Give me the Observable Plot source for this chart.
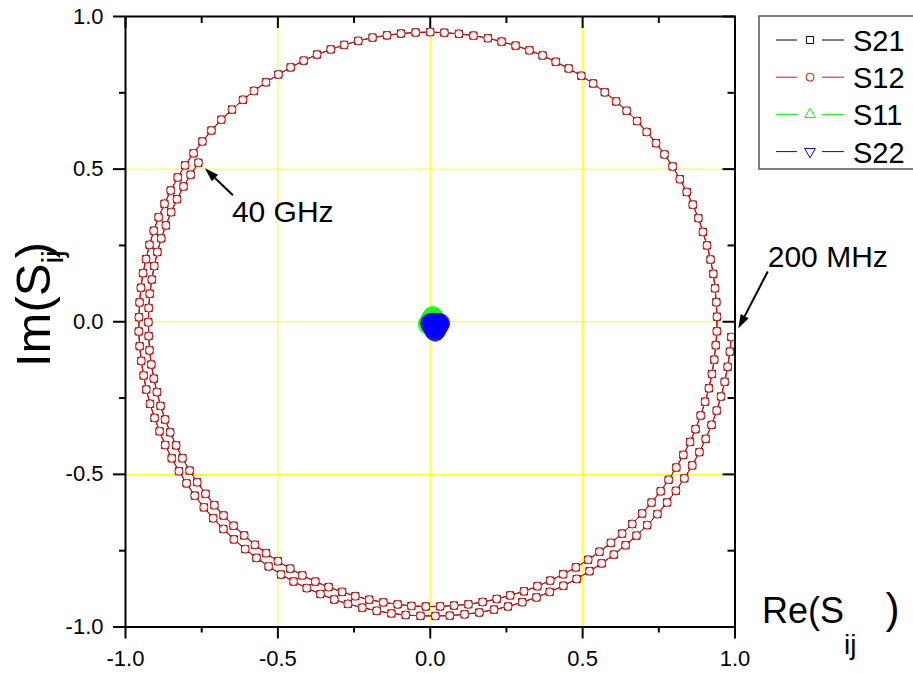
<!DOCTYPE html>
<html><head><meta charset="utf-8">
<script src="https://cdn.jsdelivr.net/npm/d3@7"></script>
<script src="https://cdn.jsdelivr.net/npm/@observablehq/plot@0.6"></script>
<style>html,body{margin:0;padding:0;background:#fff;} svg{display:block;}</style>
</head><body><div id="chart"></div>
<script>
// ---- Data: 200 sweep points, 200 MHz ... 40 GHz ----
const s21Mag = [.989,.988,.987,.986,.985,.984,.983,.982,.981,.980,
.979,.978,.977,.976,.975,.974,.973,.972,.971,.970,
.970,.969,.968,.968,.967,.967,.966,.966,.965,.965,
.964,.964,.964,.964,.963,.963,.963,.963,.962,.962,
.962,.962,.961,.961,.961,.961,.960,.960,.960,.960,
.959,.959,.959,.959,.958,.958,.958,.958,.957,.957,
.957,.957,.956,.956,.956,.956,.955,.955,.955,.955,
.954,.954,.954,.954,.953,.953,.953,.953,.952,.952,
.952,.952,.951,.951,.951,.951,.950,.950,.950,.950,
.949,.949,.949,.949,.948,.948,.948,.948,.947,.947,
.947,.947,.946,.946,.946,.946,.945,.945,.945,.945,
.944,.944,.944,.944,.943,.943,.943,.943,.942,.942,
.942,.942,.941,.941,.941,.941,.940,.940,.940,.940,
.939,.939,.939,.939,.938,.938,.938,.938,.937,.937,
.937,.937,.936,.936,.936,.936,.935,.935,.935,.935,
.934,.934,.934,.934,.933,.933,.933,.933,.932,.932,
.932,.932,.931,.931,.931,.931,.930,.930,.930,.930,
.929,.929,.929,.929,.928,.928,.928,.928,.927,.927,
.927,.927,.926,.926,.926,.926,.925,.925,.925,.925,
.924,.924,.924,.924,.923,.923,.923,.923,.922,.922];
const s21PhaseDeg = [-2.9,-5.7,-8.6,-11.5,-14.4,-17.2,-20.1,-23.0,-25.8,-28.7,
-31.6,-34.5,-37.3,-40.2,-43.1,-46.0,-48.8,-51.7,-54.6,-57.4,
-60.3,-63.2,-66.1,-68.9,-71.8,-74.7,-77.5,-80.4,-83.3,-86.2,
-89.0,-91.9,-94.8,-97.6,-100.5,-103.4,-106.3,-109.1,-112.0,-114.9,
-117.8,-120.6,-123.5,-126.4,-129.2,-132.1,-135.0,-137.9,-140.7,-143.6,
-146.5,-149.3,-152.2,-155.1,-158.0,-160.8,-163.7,-166.6,-169.4,-172.3,
-175.2,-178.1,-180.9,-183.8,-186.7,-189.6,-192.4,-195.3,-198.2,-201.0,
-203.9,-206.8,-209.7,-212.5,-215.4,-218.3,-221.1,-224.0,-226.9,-229.8,
-232.6,-235.5,-238.4,-241.2,-244.1,-247.0,-249.9,-252.7,-255.6,-258.5,
-261.4,-264.2,-267.1,-270.0,-272.8,-275.7,-278.6,-281.5,-284.3,-287.2,
-290.1,-292.9,-295.8,-298.7,-301.6,-304.4,-307.3,-310.2,-313.0,-315.9,
-318.8,-321.7,-324.5,-327.4,-330.3,-333.2,-336.0,-338.9,-341.8,-344.6,
-347.5,-350.4,-353.3,-356.1,-359.0,-361.9,-364.7,-367.6,-370.5,-373.4,
-376.2,-379.1,-382.0,-384.8,-387.7,-390.6,-393.5,-396.3,-399.2,-402.1,
-405.0,-407.8,-410.7,-413.6,-416.4,-419.3,-422.2,-425.1,-427.9,-430.8,
-433.7,-436.5,-439.4,-442.3,-445.2,-448.0,-450.9,-453.8,-456.6,-459.5,
-462.4,-465.3,-468.1,-471.0,-473.9,-476.8,-479.6,-482.5,-485.4,-488.2,
-491.1,-494.0,-496.9,-499.7,-502.6,-505.5,-508.3,-511.2,-514.1,-517.0,
-519.8,-522.7,-525.6,-528.4,-531.3,-534.2,-537.1,-539.9,-542.8,-545.7,
-548.6,-551.4,-554.3,-557.2,-560.0,-562.9,-565.8,-568.7,-571.5,-574.4];
const s12Mag = [.989,.988,.987,.986,.985,.984,.983,.982,.981,.980,
.979,.978,.977,.976,.975,.974,.973,.972,.971,.970,
.970,.969,.968,.968,.967,.967,.966,.966,.965,.965,
.964,.964,.964,.964,.963,.963,.963,.963,.962,.962,
.962,.962,.961,.961,.961,.961,.960,.960,.960,.960,
.959,.959,.959,.959,.958,.958,.958,.958,.957,.957,
.957,.957,.956,.956,.956,.956,.955,.955,.955,.955,
.954,.954,.954,.954,.953,.953,.953,.953,.952,.952,
.952,.952,.951,.951,.951,.951,.950,.950,.950,.950,
.949,.949,.949,.949,.948,.948,.948,.948,.947,.947,
.947,.947,.946,.946,.946,.946,.945,.945,.945,.945,
.944,.944,.944,.944,.943,.943,.943,.943,.942,.942,
.942,.942,.941,.941,.941,.941,.940,.940,.940,.940,
.939,.939,.939,.939,.938,.938,.938,.938,.937,.937,
.937,.937,.936,.936,.936,.936,.935,.935,.935,.935,
.934,.934,.934,.934,.933,.933,.933,.933,.932,.932,
.932,.932,.931,.931,.931,.931,.930,.930,.930,.930,
.929,.929,.929,.929,.928,.928,.928,.928,.927,.927,
.927,.927,.926,.926,.926,.926,.925,.925,.925,.925,
.924,.924,.924,.924,.923,.923,.923,.923,.922,.922];
const s12PhaseDeg = [-2.9,-5.7,-8.6,-11.5,-14.4,-17.2,-20.1,-23.0,-25.8,-28.7,
-31.6,-34.5,-37.3,-40.2,-43.1,-46.0,-48.8,-51.7,-54.6,-57.4,
-60.3,-63.2,-66.1,-68.9,-71.8,-74.7,-77.5,-80.4,-83.3,-86.2,
-89.0,-91.9,-94.8,-97.6,-100.5,-103.4,-106.3,-109.1,-112.0,-114.9,
-117.8,-120.6,-123.5,-126.4,-129.2,-132.1,-135.0,-137.9,-140.7,-143.6,
-146.5,-149.3,-152.2,-155.1,-158.0,-160.8,-163.7,-166.6,-169.4,-172.3,
-175.2,-178.1,-180.9,-183.8,-186.7,-189.6,-192.4,-195.3,-198.2,-201.0,
-203.9,-206.8,-209.7,-212.5,-215.4,-218.3,-221.1,-224.0,-226.9,-229.8,
-232.6,-235.5,-238.4,-241.2,-244.1,-247.0,-249.9,-252.7,-255.6,-258.5,
-261.4,-264.2,-267.1,-270.0,-272.8,-275.7,-278.6,-281.5,-284.3,-287.2,
-290.1,-292.9,-295.8,-298.7,-301.6,-304.4,-307.3,-310.2,-313.0,-315.9,
-318.8,-321.7,-324.5,-327.4,-330.3,-333.2,-336.0,-338.9,-341.8,-344.6,
-347.5,-350.4,-353.3,-356.1,-359.0,-361.9,-364.7,-367.6,-370.5,-373.4,
-376.2,-379.1,-382.0,-384.8,-387.7,-390.6,-393.5,-396.3,-399.2,-402.1,
-405.0,-407.8,-410.7,-413.6,-416.4,-419.3,-422.2,-425.1,-427.9,-430.8,
-433.7,-436.5,-439.4,-442.3,-445.2,-448.0,-450.9,-453.8,-456.6,-459.5,
-462.4,-465.3,-468.1,-471.0,-473.9,-476.8,-479.6,-482.5,-485.4,-488.2,
-491.1,-494.0,-496.9,-499.7,-502.6,-505.5,-508.3,-511.2,-514.1,-517.0,
-519.8,-522.7,-525.6,-528.4,-531.3,-534.2,-537.1,-539.9,-542.8,-545.7,
-548.6,-551.4,-554.3,-557.2,-560.0,-562.9,-565.8,-568.7,-571.5,-574.4];
const s11Re = [.028,-.002,.007,.026,-.007,.016,.019,-.008,.024,.010,-.004,.028,.001,.004,.027,-.006,.013,.022,
-.008,.022,.013,-.006,.027,.004,.001,.028,-.004,.010,.024,-.008,.019,.016,-.007,.026,.007,-.002,
.038,-.011,.003,.034,-.020,.018,.023,-.022,.031,.008,-.015,.038,-.007,-.002,.036,-.018,.013,.027,
-.022,.027,.013,-.018,.036,-.002,-.007,.038,-.015,.008,.031,-.022,.023,.018,-.020,.034,.003,-.011];
const s11Im = [-.002,.012,-.020,.007,.004,-.019,.014,-.005,-.014,.016,-.014,-.005,.014,-.019,.004,.007,-.020,.012,
-.002,-.016,.016,-.011,-.008,.015,-.018,.001,.010,-.020,.010,.001,-.018,.015,-.008,-.011,.016,-.016,
.000,.023,-.030,.015,.010,-.028,.026,-.005,-.019,.030,-.019,-.005,.026,-.028,.010,.015,-.030,.023,
.000,-.023,.030,-.015,-.010,.028,-.026,.005,.019,-.030,.019,.005,-.026,.028,-.010,-.015,.030,-.023];
const s22Re = [.024,.011,.015,.023,.008,.019,.020,.008,.022,.016,.010,.024,.012,.013,.024,.009,.017,.021,
.008,.021,.017,.009,.024,.013,.012,.024,.010,.016,.022,.008,.020,.019,.008,.023,.015,.011,
.031,.006,.013,.029,.002,.021,.024,.001,.028,.016,.005,.031,.009,.011,.030,.003,.019,.026,
.001,.026,.019,.003,.030,.011,.009,.031,.005,.016,.028,.001,.024,.021,.002,.029,.013,.006,
.040,.001,.012,.037,-.007,.024,.028,-.008,.034,.016,-.002,.040,.004,.008,.039,-.005,.020,.031,
-.008,.031,.020,-.005,.039,.008,.004,.040,-.002,.016,.034,-.008,.028,.024,-.007,.037,.012,.001,
.046,-.003,.011,.042,-.012,.026,.031,-.014,.039,.016,-.007,.046,.001,.006,.044,-.010,.021,.035,
-.014,.035,.021,-.010,.044,.006,.001,.046,-.007,.016,.039,-.014,.031,.026,-.012,.042,.011,-.003];
const s22Im = [-.012,-.006,-.020,-.008,-.009,-.020,-.005,-.013,-.017,-.004,-.017,-.013,-.005,-.020,-.009,-.008,-.020,-.006,
-.012,-.018,-.004,-.016,-.015,-.004,-.019,-.011,-.007,-.020,-.007,-.011,-.019,-.004,-.015,-.016,-.004,-.018,
-.012,-.001,-.027,-.005,-.007,-.026,.001,-.015,-.022,.003,-.022,-.015,.001,-.026,-.007,-.005,-.027,-.001,
-.012,-.024,.003,-.020,-.017,.002,-.025,-.009,-.002,-.027,-.002,-.009,-.025,.002,-.017,-.020,.003,-.024,
-.012,.006,-.036,.000,-.004,-.035,.009,-.016,-.027,.012,-.027,-.016,.009,-.035,-.004,.000,-.036,.006,
-.012,-.030,.012,-.024,-.020,.011,-.033,-.008,.003,-.036,.003,-.008,-.033,.011,-.020,-.024,.012,-.030,
-.014,.009,-.044,.001,-.004,-.042,.012,-.019,-.033,.016,-.033,-.019,.012,-.042,-.004,.001,-.044,.009,
-.014,-.037,.016,-.029,-.024,.014,-.040,-.009,.005,-.044,.005,-.009,-.040,.014,-.024,-.029,.016,-.037];

const seriesNames = ["S21", "S12", "S11", "S22"];
const seriesColors = ["#000000", "#ff0000", "#00ff00", "#0000ff"];
const seriesSymbols = ["square", "circle", "triangle", "triangle"];
const seriesRotate = [0, 0, 0, 180];
const seriesFill = ["white", "white", "none", "none"];
const majorTicks = [-1, -0.5, 0, 0.5, 1];
const minorTicks = [-0.75, -0.25, 0.25, 0.75];
const gridTicks = [-0.5, 0, 0.5];
const annotations = [
  {text: "200 MHz", series: 0, index: 0},
  {text: "40 GHz", series: 0, index: 199}
];

// ---- Build tables ----
const polar = (mag, ph) => mag.map((m, i) => ({re: m * Math.cos(ph[i] * Math.PI / 180), im: m * Math.sin(ph[i] * Math.PI / 180)}));
const cart = (re, im) => re.map((r, i) => ({re: r, im: im[i]}));
const seriesData = [polar(s21Mag, s21PhaseDeg), polar(s12Mag, s12PhaseDeg), cart(s11Re, s11Im), cart(s22Re, s22Im)];

// ---- Layout ----
const W = 913, H = 673, mL = 125, mR = 178.5, mT = 16, mB = 46.5;
const fw = W - mL - mR, fh = H - mT - mB;
const FONT = "'Liberation Sans', Arial, Helvetica, sans-serif";
const fmt = d => d.toFixed(1);

const seriesMarks = [];
seriesData.forEach((data, s) => {
  seriesMarks.push(Plot.line(data, {x: "re", y: "im", stroke: seriesColors[s], strokeWidth: 1}));
  seriesMarks.push(Plot.dot(data, {x: "re", y: "im", symbol: seriesSymbols[s], rotate: seriesRotate[s], r: 4, stroke: seriesColors[s], fill: seriesFill[s], strokeWidth: 1}));
});

const plot = Plot.plot({
  width: W, height: H,
  marginLeft: mL, marginRight: mR, marginTop: mT, marginBottom: mB,
  style: {fontFamily: FONT, background: "white", color: "black", overflow: "visible"},
  x: {domain: [-1, 1]},
  y: {domain: [-1, 1]},
  marks: [
    Plot.gridX(gridTicks, {stroke: "#ffff00", strokeOpacity: 1, strokeWidth: 1}),
    Plot.gridY(gridTicks, {stroke: "#ffff00", strokeOpacity: 1, strokeWidth: 1}),
    ...seriesMarks,
    Plot.frame({stroke: "black", strokeWidth: 2}),
    Plot.axisX(majorTicks, {anchor: "bottom", tickSize: 12, tickPadding: 11, tickFormat: fmt, fontSize: 22, strokeWidth: 2, label: null}),
    Plot.axisX(minorTicks, {anchor: "bottom", tickSize: 6, tickFormat: () => "", strokeWidth: 2, label: null}),
    Plot.axisY(majorTicks, {anchor: "left", tickSize: 12, tickPadding: 10, tickFormat: fmt, fontSize: 22, strokeWidth: 2, label: null}),
    Plot.axisY(minorTicks, {anchor: "left", tickSize: 6, tickFormat: () => "", strokeWidth: 2, label: null}),
    Plot.tickX(majorTicks, {x: d => d, insetBottom: fh - 12, stroke: "black", strokeWidth: 2}),
    Plot.tickX(minorTicks, {x: d => d, insetBottom: fh - 7, stroke: "black", strokeWidth: 2}),
    Plot.tickY(majorTicks, {y: d => d, insetLeft: fw - 12, stroke: "black", strokeWidth: 2}),
    Plot.tickY(minorTicks, {y: d => d, insetLeft: fw - 7, stroke: "black", strokeWidth: 2})
  ]
});
document.getElementById("chart").appendChild(plot);

// ---- Overlays: axis titles, legend, annotations ----
const svg = d3.select(plot);
const xs = plot.scale("x"), ys = plot.scale("y");

// Y title
const ty = svg.append("text").attr("transform", "translate(50,367) rotate(-90)")
  .attr("text-anchor", "start").attr("font-family", FONT).attr("font-size", 49).attr("fill", "black");
ty.append("tspan").text("Im(S");
ty.append("tspan").attr("font-size", 30).attr("dy", 13).text("ij");
ty.append("tspan").attr("dy", -13).attr("dx", -8).text(")");

// X title
const tx = svg.append("text").attr("x", 762).attr("y", 623)
  .attr("text-anchor", "start").attr("font-family", FONT).attr("font-size", 36).attr("fill", "black");
tx.append("tspan").text("Re(S");
tx.append("tspan").attr("font-size", 28).attr("dy", 31).text("ij");
tx.append("tspan").attr("dy", -31).attr("dx", 29).attr("font-size", 42).text(")");

// Legend
const lg = svg.append("g");
lg.append("rect").attr("x", 759).attr("y", 16).attr("width", 200).attr("height", 153)
  .attr("fill", "white").attr("stroke", "#555").attr("stroke-width", 1.5);
const symMap = {square: d3.symbolSquare, circle: d3.symbolCircle, triangle: d3.symbolTriangle};
seriesNames.forEach((name, i) => {
  const cy = 40 + i * 37.2;
  const c = seriesColors[i];
  lg.append("line").attr("x1", 776).attr("x2", 797).attr("y1", cy).attr("y2", cy).attr("stroke", c).attr("stroke-width", 1);
  lg.append("line").attr("x1", 822).attr("x2", 844).attr("y1", cy).attr("y2", cy).attr("stroke", c).attr("stroke-width", 1);
  lg.append("path").attr("d", d3.symbol(symMap[seriesSymbols[i]], Math.PI * 16)())
    .attr("transform", `translate(810,${cy}) rotate(${seriesRotate[i]})`)
    .attr("fill", "white").attr("stroke", c).attr("stroke-width", 1);
  lg.append("text").attr("x", 853).attr("y", cy + 11).attr("text-anchor", "start")
    .attr("font-family", FONT).attr("font-size", 29).attr("fill", "black").text(name);
});

// Annotations with arrows
const annLayout = [
  {tip: [7.5, -8], tail: [37, -65], label: [37, -69.5]},
  {tip: [7, 6], tail: [35, 33], label: [34, 59.5]}
];
function drawArrow(g, x1, y1, x2, y2) {
  const L = 14, hw = 4.5;
  const dx = x2 - x1, dy = y2 - y1, len = Math.hypot(dx, dy);
  const ux = dx / len, uy = dy / len;
  const bx = x2 - ux * L, by = y2 - uy * L;
  g.append("line").attr("x1", x1).attr("y1", y1).attr("x2", bx).attr("y2", by).attr("stroke", "black").attr("stroke-width", 2);
  g.append("path").attr("d", `M${x2},${y2}L${bx - uy * hw},${by + ux * hw}L${bx + uy * hw},${by - ux * hw}Z`).attr("fill", "black");
}
const ag = svg.append("g");
annotations.forEach((a, i) => {
  const p = seriesData[a.series][a.index];
  const px = xs.apply(p.re), py = ys.apply(p.im);
  const l = annLayout[i];
  drawArrow(ag, px + l.tail[0], py + l.tail[1], px + l.tip[0], py + l.tip[1]);
  ag.append("text").attr("x", px + l.label[0]).attr("y", py + l.label[1]).attr("text-anchor", "start")
    .attr("font-family", FONT).attr("font-size", 30).attr("fill", "black").text(a.text);
});
</script>
</body></html>
